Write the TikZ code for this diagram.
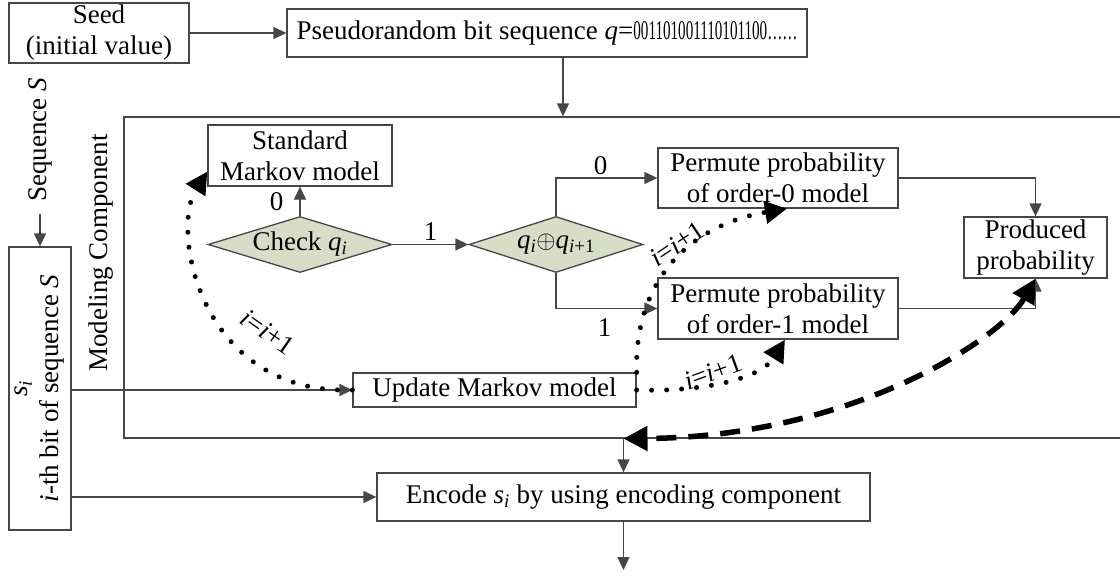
\documentclass[tikz,border=0pt]{standalone}
\usepackage{fontspec}
\setmainfont{Liberation Serif}
\usepackage{graphicx}
\usepackage{tikz}
\usetikzlibrary{shapes.geometric, arrows.meta}
\newcommand{\diagfont}{\fontsize{27}{31}\selectfont}
\newcommand{\qbit}[1]{\textit{q}\textsubscript{#1}}
\newcommand{\incr}{\textit{i}=\textit{i}+1}
\definecolor{linegray}{RGB}{70,70,70}
\definecolor{diamfill}{RGB}{216,221,200}
\tikzstyle{box} = [draw=linegray, line width=1.3pt, align=center, inner sep=0pt, font=\diagfont]
\tikzstyle{check} = [diamond, draw=linegray, fill=diamfill, line width=1.3pt, inner sep=0pt, aspect=3.3, font=\diagfont]
\tikzstyle{txt} = [inner sep=2pt, font=\diagfont]
\tikzstyle{arrow} = [draw=linegray, line width=1.3pt, -{Triangle[length=13pt,width=12pt]}]
\tikzstyle{loopback} = [line width=5pt, line cap=round, dash pattern=on 0pt off 15pt, -{Triangle[length=22pt,width=22pt]}]
\tikzstyle{feedback} = [line width=5.5pt, dash pattern=on 20pt off 12pt, {Triangle[length=24pt,width=24pt]}-{Triangle[length=24pt,width=24pt]}]

\begin{document}
\begin{tikzpicture}[x=1pt, y=-1pt]
    \useasboundingbox (0,0) rectangle (1120,576);

    \node (seed) [box, minimum width=180pt, minimum height=60pt] at (99,33) {Seed\\(initial value)};
    \node (prng) [box, minimum width=520pt, minimum height=48pt] at (547,33)
        {Pseudorandom bit sequence \textit{q}=\scalebox{0.56}[1]{001101001110101100……}};
    \node (seqlabel) [txt, rotate=90] at (40,140) {Sequence \textit{S}};
    \node (sbox) [box, rotate=90, minimum width=283pt, minimum height=62pt, align=center] at (40,388.5)
        {\textit{s}\textsubscript{\textit{i}}\\\textit{i}-th bit of sequence \textit{S}};

    % modeling component
    \node (mc) [box, minimum width=1001pt, minimum height=321pt] at (624.5,277.5) {};
    \node (mclabel) [txt, rotate=90] at (101,253) {Modeling Component};
    \node (std) [box, minimum width=184pt, minimum height=61pt] at (300,155.5) {Standard\\Markov model};
    \node (chk) [check, minimum width=184pt, minimum height=56pt] at (300,244.5) {Check \qbit{\textit{i}}};
    \node (xr) [check, minimum width=174pt, minimum height=56pt] at (556,244.5)
        {\qbit{\textit{i}}$\oplus$\qbit{\textit{i}+1}};
    \node (pzero) [box, minimum width=240pt, minimum height=60pt] at (778,178) {Permute probability\\of order-0 model};
    \node (pone) [box, minimum width=240pt, minimum height=61pt] at (778,308.5) {Permute probability\\of order-1 model};
    \node (prod) [box, minimum width=143pt, minimum height=61pt] at (1035.5,247.5) {Produced\\probability};
    \node (upd) [box, minimum width=283pt, minimum height=34pt] at (494.5,390) {Update Markov model};
    \node (enc) [box, minimum width=493pt, minimum height=48pt] at (623.5,497)
        {Encode \textit{s}\textsubscript{\textit{i}} by using encoding component};
    \coordinate (join) at (enc.north |- mc.south);
    \coordinate (out) at (623.5,570);

    % Edges
    \draw[arrow] (seed) -- (prng);
    \draw[arrow] ([xshift=16pt]prng.south) -- ([xshift=16pt]prng.south |- mc.north);
    \draw[arrow, shorten <=10pt] (seqlabel.west) -- (seqlabel.west |- sbox.east);
    \draw[arrow] (sbox.south |- upd.west) -- (upd.west);
    \draw[arrow] (sbox.south |- enc.west) -- (enc.west);
    \draw[arrow] (chk.north) -- (std.south) node[txt, midway, left=14pt] {0};
    \draw[arrow] (chk.east) -- (xr.west) node[txt, midway, above=1pt] {1};
    \draw[arrow] (xr.north) |- (pzero.west) node[txt, pos=0.72, above=1pt] {0};
    \draw[arrow] (xr.south) |- (pone.west) node[txt, pos=0.74, below=8pt] {1};
    \draw[arrow] (pzero.east) -| (prod.north);
    \draw[arrow] (pone.east) -| (prod.south);
    \draw[arrow] (join) -- (enc.north);
    \draw[arrow] (enc.south) -- (out);

    % i=i+1 loops
    \draw[loopback] (upd.west) .. controls (200,395) and (170,230) .. ([yshift=-16pt]std.west);
    \draw[loopback] (upd.east) .. controls (700,392) and (760,380) .. ([xshift=7pt]pone.south);
    \draw[loopback] (upd.north east) .. controls (634,280) and (690,225) .. ([xshift=9pt]pzero.south);
    \node (inc1) [txt, rotate=-35] at (268,332) {\incr};
    \node (inc2) [txt, rotate=20] at (713,372) {\incr};
    \node (inc3) [txt, rotate=34] at (677,244) {\incr};

    \draw[feedback] (prod.south) .. controls (1000,340) and (850,437) .. (join);
\end{tikzpicture}
\end{document}
